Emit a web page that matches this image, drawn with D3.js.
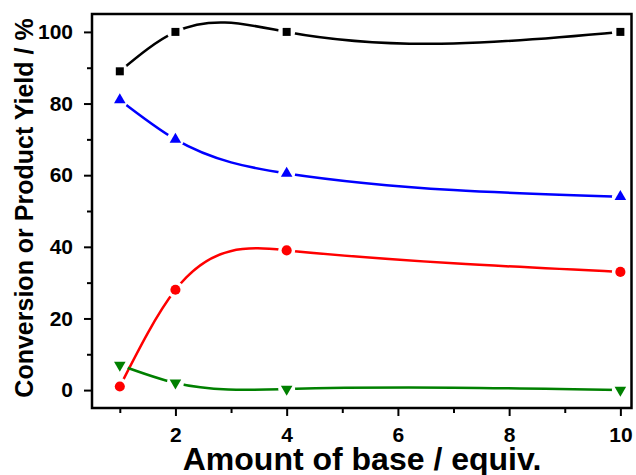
<!DOCTYPE html>
<html>
<head>
<meta charset="utf-8">
<script src="https://cdn.jsdelivr.net/npm/d3@7"></script>
<style>
  body { margin: 0; background: #fff; }
  text { font-family: "Liberation Sans", Arial, sans-serif; font-weight: bold; fill: #000; }
</style>
</head>
<body>
<div id="chart"></div>
<script>
// amount of base (equiv.)
const baseAmounts = [1, 2, 4, 10];
// conversion and yields (%)
const conversion = [89, 100, 100, 100];
const yieldBlue = [81, 70, 60.5, 54];
const yieldRed = [1, 28, 39, 33];
const yieldGreen = [7, 2, 0.3, 0];

const xTickValues = [2, 4, 6, 8, 10];
const xMinorTicks = [1, 3, 5, 7, 9];
const yTickValues = [0, 20, 40, 60, 80, 100];
const yMinorTicks = [10, 30, 50, 70, 90];

const width = 636, height = 475;
const margin = { top: 14, right: 4.5, bottom: 67, left: 92 };

// natural cubic spline in x (like Origin's spline connection)
function curveSplineX(context) {
  let xs, ys;
  return {
    areaStart() {}, areaEnd() {},
    lineStart() { xs = []; ys = []; },
    point(x, y) { xs.push(+x); ys.push(+y); },
    lineEnd() {
      const n = xs.length;
      if (!n) return;
      context.moveTo(xs[0], ys[0]);
      if (n < 3) { if (n === 2) context.lineTo(xs[1], ys[1]); return; }
      const h = [];
      for (let i = 0; i < n - 1; i++) h.push(xs[i + 1] - xs[i]);
      const a = [], b = [], c = [], d = [];
      for (let i = 1; i < n - 1; i++) {
        a.push(h[i - 1]);
        b.push(2 * (h[i - 1] + h[i]));
        c.push(h[i]);
        d.push(6 * ((ys[i + 1] - ys[i]) / h[i] - (ys[i] - ys[i - 1]) / h[i - 1]));
      }
      const m = b.length;
      for (let i = 1; i < m; i++) {
        const w = a[i] / b[i - 1];
        b[i] -= w * c[i - 1];
        d[i] -= w * d[i - 1];
      }
      const M = new Array(n).fill(0);
      M[m] = d[m - 1] / b[m - 1];
      for (let i = m - 2; i >= 0; i--) M[i + 1] = (d[i] - c[i] * M[i + 2]) / b[i];
      for (let i = 0; i < n - 1; i++) {
        const s = (ys[i + 1] - ys[i]) / h[i];
        const d0 = s - h[i] * (2 * M[i] + M[i + 1]) / 6;
        const d1 = s + h[i] * (M[i] + 2 * M[i + 1]) / 6;
        context.bezierCurveTo(
          xs[i] + h[i] / 3, ys[i] + d0 * h[i] / 3,
          xs[i + 1] - h[i] / 3, ys[i + 1] - d1 * h[i] / 3,
          xs[i + 1], ys[i + 1]);
      }
    }
  };
}

const svg = d3.select('#chart')
  .append('svg')
  .attr('width', width)
  .attr('height', height);

const x = d3.scaleLinear()
  .domain([0.5, 10.2])
  .range([margin.left, width - margin.right]);

const y = d3.scaleLinear()
  .domain([-5, 105])
  .range([height - margin.bottom, margin.top]);

const series = [
  { name: 'conversion', values: conversion, color: '#000000', symbol: d3.symbolSquare, size: 64, rotate: 0 },
  { name: 'blue', values: yieldBlue, color: '#0000ff', symbol: d3.symbolTriangle, size: 58, rotate: 0 },
  { name: 'red', values: yieldRed, color: '#ff0000', symbol: d3.symbolCircle, size: 80, rotate: 0 },
  { name: 'green', values: yieldGreen, color: '#008000', symbol: d3.symbolTriangle, size: 58, rotate: 180 }
];

// masks to leave a gap in each line around its own markers
const defs = svg.append('defs');
series.forEach((s) => {
  const mask = defs.append('mask')
    .attr('id', 'gap-' + s.name)
    .attr('maskUnits', 'userSpaceOnUse')
    .attr('x', 0).attr('y', 0).attr('width', width).attr('height', height);
  mask.append('rect')
    .attr('width', width).attr('height', height).attr('fill', '#fff');
  mask.selectAll('circle')
    .data(baseAmounts)
    .enter()
    .append('circle')
    .attr('cx', (d) => x(d))
    .attr('cy', (d, i) => y(s.values[i]))
    .attr('r', 8.5)
    .attr('fill', '#000');
});

const line = d3.line()
  .x((d) => x(d[0]))
  .y((d) => y(d[1]))
  .curve(curveSplineX);

series.forEach((s) => {
  const pts = baseAmounts.map((b, i) => [b, s.values[i]]);
  svg.append('path')
    .datum(pts)
    .attr('d', line)
    .attr('fill', 'none')
    .attr('stroke', s.color)
    .attr('stroke-width', 2.5)
    .attr('mask', `url(#gap-${s.name})`);

  svg.selectAll('.m-' + s.name)
    .data(pts)
    .enter()
    .append('path')
    .attr('class', 'm-' + s.name)
    .attr('d', d3.symbol().type(s.symbol).size(s.size))
    .attr('transform', (d) => `translate(${x(d[0])},${y(d[1])}) rotate(${s.rotate})`)
    .attr('fill', s.color);
});

// axes
svg.append('g')
  .attr('transform', `translate(0,${height - margin.bottom})`)
  .call(d3.axisBottom(x).tickValues(xTickValues).tickSize(8).tickPadding(11).tickSizeOuter(0));
svg.append('g')
  .attr('transform', `translate(0,${height - margin.bottom})`)
  .call(d3.axisBottom(x).tickValues(xMinorTicks).tickSize(5).tickFormat('').tickSizeOuter(0));

svg.append('g')
  .attr('transform', `translate(${margin.left},0)`)
  .call(d3.axisLeft(y).tickValues(yTickValues).tickSize(8).tickPadding(11).tickSizeOuter(0));
svg.append('g')
  .attr('transform', `translate(${margin.left},0)`)
  .call(d3.axisLeft(y).tickValues(yMinorTicks).tickSize(5).tickFormat('').tickSizeOuter(0));

svg.selectAll('.domain').remove();
svg.selectAll('.tick line').attr('stroke', '#000').attr('stroke-width', 2);
svg.selectAll('.tick text').style('font-size', '21px').attr('fill', '#000');

// frame
svg.append('rect')
  .attr('x', margin.left)
  .attr('y', margin.top)
  .attr('width', width - margin.right - margin.left)
  .attr('height', height - margin.bottom - margin.top)
  .attr('fill', 'none')
  .attr('stroke', '#000')
  .attr('stroke-width', 2.5);

// axis titles
svg.append('text')
  .attr('x', 362)
  .attr('y', 470)
  .attr('text-anchor', 'middle')
  .style('font-size', '32px')
  .text('Amount of base / equiv.');

svg.append('text')
  .attr('transform', 'translate(33,208) rotate(-90)')
  .attr('text-anchor', 'middle')
  .style('font-size', '25px')
  .text('Conversion or Product Yield / %');
</script>
</body>
</html>
